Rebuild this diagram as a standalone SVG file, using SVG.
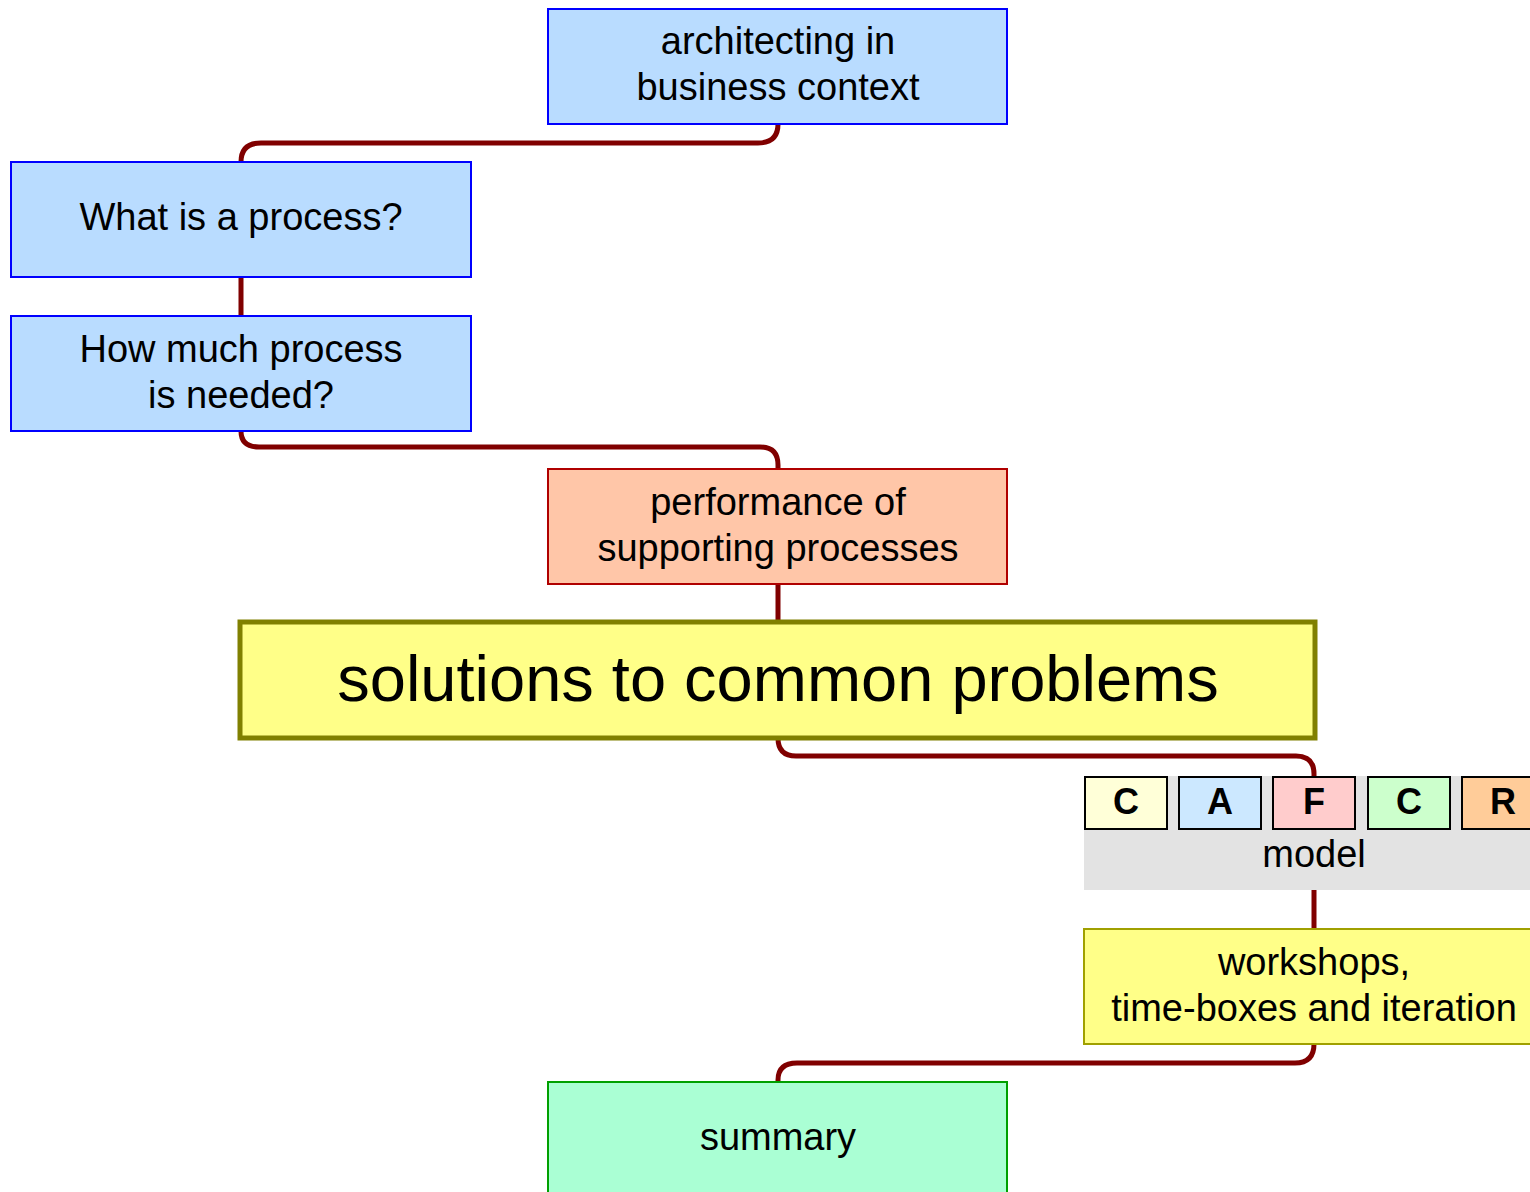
<svg xmlns="http://www.w3.org/2000/svg" width="1530" height="1192" viewBox="0 0 1530 1192">
<style>
text{font-family:"Liberation Sans",Arial,sans-serif;fill:#000;text-anchor:middle}
.t{font-size:38px}
.big{font-size:65px}
.l{font-size:36px;font-weight:bold}
.blue{fill:#b9dcff;stroke:#0000ff;stroke-width:2}
.cn{fill:none;stroke:#800000;stroke-width:5;stroke-linecap:round}
.cb{stroke:#000;stroke-width:2}
</style>
<rect width="1530" height="1192" fill="#fff"/>
<g id="connectors">
<path class="cn" d="M778,124 Q778,143 758,143 L261,143 Q241,143 241,162"/>
<path class="cn" d="M241,277 L241,316"/>
<path class="cn" d="M241,431 Q241,447 259,447 L760,447 Q778,447 778,465 L778,469"/>
<path class="cn" d="M778,584 L778,622"/>
<path class="cn" d="M778,738 Q778,756 796,756 L1296,756 Q1314,756 1314,774 L1314,776"/>
<path class="cn" d="M1314,890 L1314,929"/>
<path class="cn" d="M1314,1044 Q1314,1063 1295,1063 L797,1063 Q778,1063 778,1080 L778,1082"/>
</g>
<g id="n1">
<rect class="blue" x="548" y="9" width="459" height="115"/>
<text class="t" x="778" y="54">architecting in</text>
<text class="t" x="778" y="100">business context</text>
</g>
<g id="n2">
<rect class="blue" x="11" y="162" width="460" height="115"/>
<text class="t" x="241" y="230">What is a process?</text>
</g>
<g id="n3">
<rect class="blue" x="11" y="316" width="460" height="115"/>
<text class="t" x="241" y="362">How much process</text>
<text class="t" x="241" y="408">is needed?</text>
</g>
<g id="n4">
<rect x="548" y="469" width="459" height="115" fill="#ffc6a8" stroke="#b00000" stroke-width="2"/>
<text class="t" x="778" y="515">performance of</text>
<text class="t" x="778" y="561">supporting processes</text>
</g>
<g id="n5">
<rect x="240" y="622" width="1075" height="116" fill="#ffff88" stroke="#808000" stroke-width="5"/>
<text class="big" x="778" y="701">solutions to common problems</text>
</g>
<g id="n6">
<rect x="1084" y="776" width="460" height="114" fill="#e3e3e3"/>
<rect class="cb" x="1085" y="777" width="82" height="52" fill="#ffffd8"/>
<rect class="cb" x="1179" y="777" width="82" height="52" fill="#cce8ff"/>
<rect class="cb" x="1273" y="777" width="82" height="52" fill="#ffcccc"/>
<rect class="cb" x="1368" y="777" width="82" height="52" fill="#ccffcc"/>
<rect class="cb" x="1462" y="777" width="82" height="52" fill="#ffcc99"/>
<text class="l" x="1126" y="814">C</text>
<text class="l" x="1220" y="814">A</text>
<text class="l" x="1314" y="814">F</text>
<text class="l" x="1409" y="814">C</text>
<text class="l" x="1503" y="814">R</text>
<text class="t" x="1314" y="867">model</text>
</g>
<g id="n7">
<rect x="1084" y="929" width="460" height="115" fill="#ffff88" stroke="#a0a000" stroke-width="2"/>
<text class="t" x="1314" y="975">workshops,</text>
<text class="t" x="1314" y="1021">time-boxes and iteration</text>
</g>
<g id="n8">
<rect x="548" y="1082" width="459" height="115" fill="#aaffd4" stroke="#00a000" stroke-width="2"/>
<text class="t" x="778" y="1150">summary</text>
</g>
</svg>
